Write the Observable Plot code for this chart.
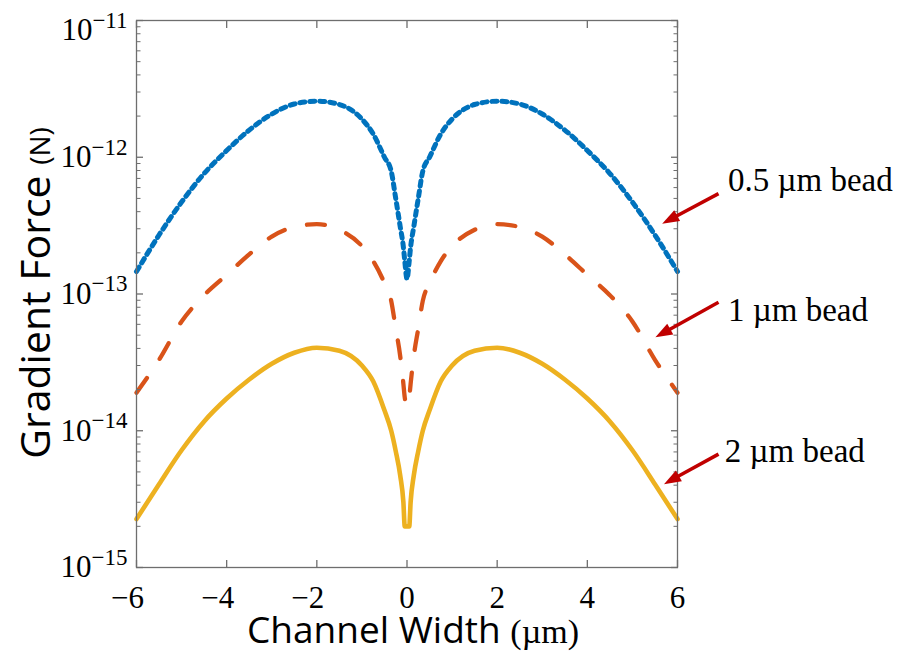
<!DOCTYPE html>
<html><head><meta charset="utf-8">
<script src="https://cdn.jsdelivr.net/npm/d3@7"></script>
<script src="https://cdn.jsdelivr.net/npm/@observablehq/plot@0.6"></script>
<style>body{margin:0;background:#fff;} svg{display:block}</style>
</head><body><div id="chart"></div>
<script>
// Channel width (µm)
const channelWidth = [-6,-5.5,-5,-4.5,-4,-3.5,-3,-2.5,-2,-1.5,-1,-0.75,-0.5,-0.35,-0.25,-0.15,-0.08,-0.05,0,0.05,0.08,0.15,0.25,0.35,0.5,0.75,1,1.5,2,2.5,3,3.5,4,4.5,5,5.5,6];
// Gradient force (N) for each bead size
const force05um = [1.46e-13,2.7e-13,4.7e-13,7.6e-13,1.12e-12,1.58e-12,2.07e-12,2.45e-12,2.57e-12,2.43e-12,1.9e-12,1.48e-12,1.0e-12,7.9e-13,5.0e-13,3.1e-13,2.2e-13,1.75e-13,1.29e-13,1.75e-13,2.2e-13,3.1e-13,5.0e-13,7.9e-13,1.0e-12,1.48e-12,1.9e-12,2.43e-12,2.57e-12,2.45e-12,2.07e-12,1.58e-12,1.12e-12,7.6e-13,4.7e-13,2.7e-13,1.46e-13];
const force1um = [1.9e-14,3.3e-14,6.3e-14,9.8e-14,1.38e-13,1.95e-13,2.63e-13,3.09e-13,3.24e-13,2.95e-13,2.24e-13,1.74e-13,1.2e-13,8.9e-14,5.6e-14,3.5e-14,2.2e-14,1.75e-14,1.52e-14,1.75e-14,2.2e-14,3.5e-14,5.6e-14,8.9e-14,1.2e-13,1.74e-13,2.24e-13,2.95e-13,3.24e-13,3.09e-13,2.63e-13,1.95e-13,1.38e-13,9.8e-14,6.3e-14,3.3e-14,1.9e-14];
const force2um = [2.26e-15,4.07e-15,7.2e-15,1.17e-14,1.72e-14,2.37e-14,3.09e-14,3.72e-14,4.05e-14,3.85e-14,3.0e-14,2.3e-14,1.41e-14,1.0e-14,7.1e-15,4.7e-15,3.0e-15,2.0e-15,2.0e-15,2.0e-15,3.0e-15,4.7e-15,7.1e-15,1.0e-14,1.41e-14,2.3e-14,3.0e-14,3.85e-14,4.05e-14,3.72e-14,3.09e-14,2.37e-14,1.72e-14,1.17e-14,7.2e-15,4.07e-15,2.26e-15];

const xTicks = [-6,-4,-2,0,2,4,6];
const yTicks = [1e-15,1e-14,1e-13,1e-12,1e-11];
const yExponents = ["−15","−14","−13","−12","−11"];

// Annotations (tail = near text, tip = at curve)
const beadLabels = ["0.5 µm bead","1 µm bead","2 µm bead"];
const labelX = [7.12,7.12,7.05];
const labelY = [6.73e-13,7.63e-14,7.0e-15];
const arrowX1 = [6.91,6.91,6.91];
const arrowY1 = [5.42e-13,8.7e-14,6.75e-15];
const arrowX2 = [5.66,5.51,5.70];
const arrowY2 = [3.27e-13,4.82e-14,4.07e-15];

const W = 902, H = 652, mL = 136, mR = 225, mT = 20, mB = 85;
const xDomain = [-6, 6], yDomain = [1e-15, 1e-11];
const sx = Plot.scale({x: {domain: xDomain, range: [mL, W - mR]}});
const sy = Plot.scale({y: {type: "log", domain: yDomain, range: [H - mB, mT]}});

const minorTicks = d3.range(-15,-11).flatMap(e => d3.range(2,10).map(m => m * Math.pow(10, e)));
const rows = vals => channelWidth.map((x, i) => ({x, y: vals[i]}));
const labels = beadLabels.map((t, i) => ({t, x: labelX[i], y: labelY[i]}));

// narrow filled arrowhead, tip 11px ahead of its anchor
const headSymbol = {draw(ctx) { ctx.moveTo(0, -11); ctx.lineTo(6.2, 6); ctx.lineTo(-6.2, 6); ctx.closePath(); }};
const headBack = 11;
const arrows = beadLabels.map((t, i) => {
  const X1 = sx.apply(arrowX1[i]), Y1 = sy.apply(arrowY1[i]);
  const X2 = sx.apply(arrowX2[i]), Y2 = sy.apply(arrowY2[i]);
  const len = Math.hypot(X2 - X1, Y2 - Y1);
  const ux = (X2 - X1) / len, uy = (Y2 - Y1) / len;
  const cx = sx.invert(X2 - ux * headBack), cy = sy.invert(Y2 - uy * headBack);
  const angle = Math.atan2(uy, ux) * 180 / Math.PI + 90;
  return {x1: arrowX1[i], y1: arrowY1[i], cx, cy, angle};
});

const grey = "#6e6e6e";
const blank = () => "";

const chart = Plot.plot({
  width: W, height: H,
  marginLeft: mL, marginRight: mR, marginTop: mT, marginBottom: mB,
  style: {fontFamily: "'Liberation Serif', 'Times New Roman', serif", fontSize: "31px", color: "#000", background: "#fff", overflow: "visible"},
  x: {domain: xDomain},
  y: {type: "log", domain: yDomain},
  marks: [
    Plot.line(rows(force05um), {x: "x", y: "y", stroke: "#0072BD", strokeWidth: 5, strokeDasharray: "5,5", curve: "monotone-x"}),
    Plot.line(rows(force1um), {x: "x", y: "y", stroke: "#D95319", strokeWidth: 4.3, strokeDasharray: "18,23", curve: "monotone-x"}),
    Plot.line(rows(force2um), {x: "x", y: "y", stroke: "#EDB120", strokeWidth: 4.6, curve: "monotone-x"}),
    Plot.frame({stroke: grey, strokeWidth: 1.3}),
    Plot.axisX({anchor: "bottom", ticks: xTicks, tickSize: -7, tickPadding: 25, stroke: grey, strokeWidth: 1.3, tickFormat: d => d < 0 ? `−${-d}` : `${d}`, label: null}),
    Plot.axisX({anchor: "top", ticks: xTicks, tickSize: -7, stroke: grey, strokeWidth: 1.3, tickFormat: blank, label: null}),
    Plot.axisY({anchor: "left", ticks: yTicks, tickSize: -7, tickPadding: 16, stroke: grey, strokeWidth: 1.3, tickFormat: d => "10^" + yExponents[yTicks.indexOf(d)], label: null}),
    Plot.axisY({anchor: "left", ticks: minorTicks, tickSize: -4.5, stroke: grey, tickFormat: blank, label: null}),
    Plot.axisY({anchor: "right", ticks: yTicks, tickSize: -7, stroke: grey, strokeWidth: 1.3, tickFormat: blank, label: null}),
    Plot.axisY({anchor: "right", ticks: minorTicks, tickSize: -4.5, stroke: grey, tickFormat: blank, label: null}),
    Plot.link(arrows, {x1: "x1", y1: "y1", x2: "cx", y2: "cy", stroke: "#C00000", strokeWidth: 3.5, clip: false}),
    Plot.dot(arrows, {x: "cx", y: "cy", symbol: headSymbol, rotate: "angle", fill: "#C00000", stroke: "none", clip: false}),
    Plot.text(labels, {x: "x", y: "y", text: "t", textAnchor: "start", fontSize: 33, fill: "#000", clip: false})
  ]
});

document.getElementById("chart").appendChild(chart);

const ns = "http://www.w3.org/2000/svg";
// x tick labels: the digit sits on the tick, a minus sign hangs to its left
chart.querySelectorAll('g[aria-label="x-axis tick label"] text').forEach(t => {
  t.setAttribute("font-size", "31");
  if (t.textContent.startsWith("−")) t.setAttribute("dx", "-9");
});
// Superscript exponents on y tick labels
chart.querySelectorAll("text").forEach(t => {
  const s = t.textContent;
  if (s.startsWith("10^")) {
    const exp = s.slice(3);
    t.textContent = "";
    t.setAttribute("font-size", "31");
    const base = document.createElementNS(ns, "tspan");
    base.textContent = "10";
    if (exp === yExponents[yExponents.length - 1]) base.setAttribute("dy", "10");
    const sup = document.createElementNS(ns, "tspan");
    sup.textContent = exp;
    sup.setAttribute("font-size", "23");
    sup.setAttribute("dy", "-12.5");
    t.appendChild(base);
    t.appendChild(sup);
  }
});

// Axis titles
const svg = d3.select(chart);
const xt = svg.append("text").attr("x", 413).attr("y", 643).attr("text-anchor", "middle").attr("fill", "#000");
xt.append("tspan").attr("font-family", "'Open Sans', sans-serif").attr("font-size", 37).text("Channel Width ");
xt.append("tspan").attr("font-family", "'Liberation Serif', serif").attr("font-size", 34).text("(µm)");
const yt = svg.append("text").attr("transform", "translate(50,293) rotate(-90)").attr("text-anchor", "middle").attr("fill", "#000");
yt.append("tspan").attr("font-family", "'Open Sans', sans-serif").attr("font-size", 41).text("Gradient Force ");
yt.append("tspan").attr("font-family", "'Open Sans', sans-serif").attr("font-size", 28).text("(N)");
</script>
</body></html>
